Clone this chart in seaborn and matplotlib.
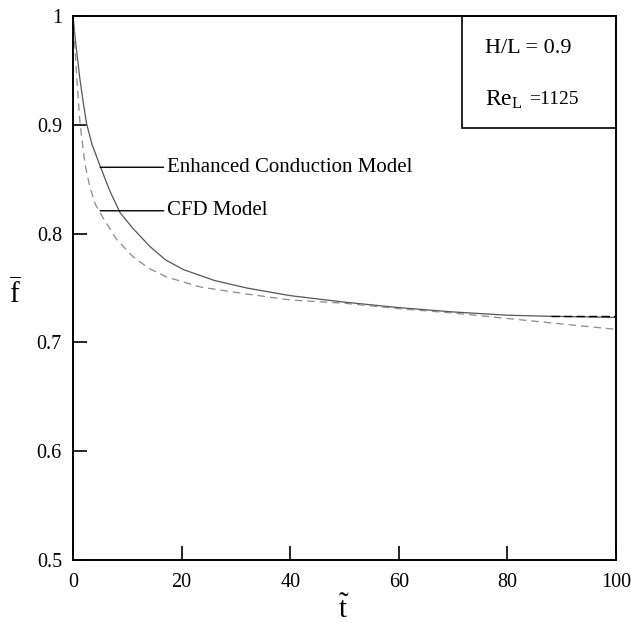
import numpy as np
import pandas as pd
import seaborn as sns
from matplotlib import pyplot as plt
from matplotlib.patches import Rectangle

# curves
t_enhanced = [0, 0.5, 1.3, 1.9, 2.5, 3.5, 5, 6.8, 8.7, 11, 14.2, 17, 20.3, 26, 32, 40,
              50, 60, 70, 80, 88, 100]
f_enhanced = [1.0, 0.975, 0.941, 0.92, 0.901, 0.882, 0.862, 0.839, 0.819, 0.805, 0.788,
              0.776, 0.767, 0.757, 0.750, 0.743, 0.737, 0.732, 0.728, 0.725, 0.724, 0.723]

t_cfd = [0, 0.4, 0.8, 1.3, 2.2, 3.1, 4.1, 5.6, 8, 11, 14, 17.3, 23.4, 31.3, 40, 50, 60,
         70, 80, 90, 100]
f_cfd = [1.0, 0.967, 0.935, 0.901, 0.864, 0.843, 0.827, 0.814, 0.795, 0.779, 0.768, 0.760,
         0.751, 0.745, 0.739, 0.736, 0.731, 0.727, 0.722, 0.717, 0.712]

t_tail = [88, 100]
f_tail = [0.724, 0.724]

x_ticks = [0, 20, 40, 60, 80, 100]
y_ticks = [0.5, 0.6, 0.7, 0.8, 0.9, 1.0]
y_ticklabels = ['0.5', '0.6', '0.7', '0.8', '0.9', '1']


def plot_fraction():
    sns.set_style('ticks')
    plt.rcParams['font.family'] = ['Liberation Serif', 'DejaVu Serif']
    plt.rcParams['mathtext.fontset'] = 'custom'
    plt.rcParams['mathtext.rm'] = 'Liberation Serif'
    plt.rcParams['mathtext.it'] = 'Liberation Serif:italic'
    plt.rcParams['text.color'] = 'black'
    plt.rcParams['axes.labelcolor'] = 'black'
    plt.rcParams['xtick.color'] = 'black'
    plt.rcParams['ytick.color'] = 'black'

    fig = plt.figure(figsize=(6.31, 6.23), dpi=100)
    ax = fig.add_axes([0.1157, 0.1011, 0.8605, 0.8732])

    enh_df = pd.DataFrame({'t': t_enhanced, 'f': f_enhanced})
    cfd_df = pd.DataFrame({'t': t_cfd, 'f': f_cfd})
    tail_df = pd.DataFrame({'t': t_tail, 'f': f_tail})

    sns.lineplot(data=enh_df, x='t', y='f', ax=ax, color='#555555', lw=0.9)
    sns.lineplot(data=cfd_df, x='t', y='f', ax=ax, color='#8a8a8a', lw=0.9,
                 linestyle=(0, (6, 4)))
    sns.lineplot(data=tail_df, x='t', y='f', ax=ax, color='black', lw=1.0,
                 linestyle=(0, (6, 3)))

    ax.set_xlim(0, 100)
    ax.set_ylim(0.5, 1.0)
    ax.set_xticks(x_ticks)
    ax.set_xticklabels([str(v) for v in x_ticks], fontsize=14.5)
    ax.set_yticks(y_ticks)
    ax.set_yticklabels(y_ticklabels, fontsize=14.5)
    ax.tick_params(direction='in', length=10, width=1.2, color='black', labelcolor='black')
    ax.tick_params(axis='x', pad=9)
    ax.tick_params(axis='y', pad=8)

    for side in ['left', 'bottom', 'right', 'top']:
        ax.spines[side].set_linewidth(1.4)
        ax.spines[side].set_color('black')

    ax.set_xlabel(r'$\tilde{\mathrm{t}}$', fontsize=21)
    ax.xaxis.set_label_coords(0.5, -0.065)
    ax.set_ylabel(r'$\overline{\mathrm{f}}$', fontsize=21, rotation=0, va='center')
    ax.yaxis.set_label_coords(-0.107, 0.49)

    ax.annotate('Enhanced Conduction Model', xy=(5.0, 0.861), xytext=(17.3, 0.861),
                fontsize=15, va='center',
                arrowprops=dict(arrowstyle='-', color='black', lw=1.0,
                                shrinkA=0, shrinkB=0))
    ax.annotate('CFD Model', xy=(5.0, 0.821), xytext=(17.3, 0.821),
                fontsize=15, va='center',
                arrowprops=dict(arrowstyle='-', color='black', lw=1.0,
                                shrinkA=0, shrinkB=0))

    ax.add_patch(Rectangle((0.716, 0.794), 0.284, 0.206, transform=ax.transAxes,
                           fill=False, edgecolor='black', lw=1.2, zorder=5))
    ax.text(0.758, 0.941, 'H/L = 0.9', transform=ax.transAxes, fontsize=16, va='center')
    ax.text(0.758, 0.846, r'$\mathrm{Re}_{\mathrm{L}}$', transform=ax.transAxes,
            fontsize=17, va='center')
    ax.text(0.840, 0.846, '=1125', transform=ax.transAxes, fontsize=14, va='center')

    fig.savefig('out.png', dpi=100)


if __name__ == '__main__':
    plot_fraction()
